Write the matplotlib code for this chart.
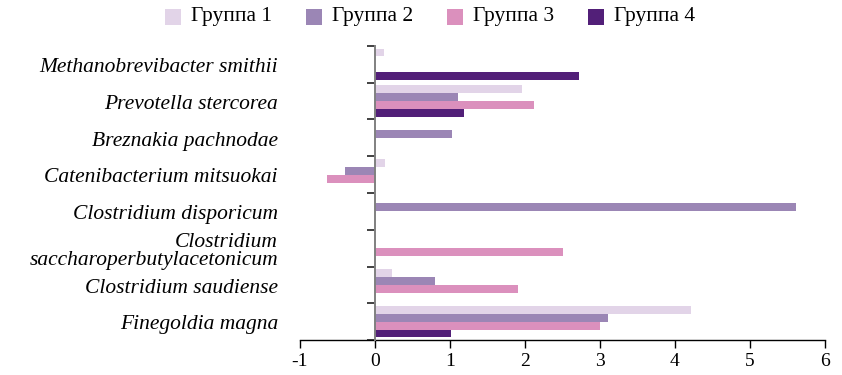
import matplotlib
matplotlib.use("Agg")
import matplotlib.pyplot as plt
import numpy as np
from matplotlib.patches import Rectangle

categories = [
    "Methanobrevibacter smithii",
    "Prevotella stercorea",
    "Breznakia pachnodae",
    "Catenibacterium mitsuokai",
    "Clostridium disporicum",
    "Clostridium\nsaccharoperbutylacetonicum",
    "Clostridium saudiense",
    "Finegoldia magna",
]
series_names = ["Группа 1", "Группа 2", "Группа 3", "Группа 4"]
group1 = [0.12, 1.96, 0, 0.13, 0, 0, 0.22, 4.21]
group2 = [0, 1.11, 1.03, -0.40, 5.61, 0, 0.80, 3.10]
group3 = [0, 2.12, 0, -0.64, 0, 2.51, 1.91, 3.00]
group4 = [2.72, 1.19, 0, 0, 0, 0, 0, 1.01]
x_ticks = [-1, 0, 1, 2, 3, 4, 5, 6]

colors = ["#e2d4e8", "#9b86b5", "#db90bd", "#521f78"]

plt.rcParams['font.family'] = ['Liberation Serif', 'DejaVu Serif']

W, H = 842, 375
fig = plt.figure(figsize=(W / 100, H / 100), dpi=100)
ax = fig.add_axes([300/W, 1-340/H, 525/W, 294/H])

n = len(categories)
ycent = np.arange(n)
bh = 0.215
series = [group1, group2, group3, group4]
for i, (vals, c) in enumerate(zip(series, colors)):
    offs = (i - 1.5) * bh
    ax.barh(ycent + offs, vals, height=bh, color=c, edgecolor='none', zorder=2)

ax.set_xlim(-1, 6)
ax.set_ylim(n - 0.5, -0.5)
ax.set_xticks(x_ticks)
ax.set_xticklabels([str(t) for t in x_ticks], fontsize=14)

ax.spines['top'].set_visible(False)
ax.spines['right'].set_visible(False)
ax.spines['left'].set_position(('data', 0))
ax.spines['left'].set_color('#808080')
ax.spines['left'].set_linewidth(1.4)
ax.spines['left'].set_zorder(3)
ax.spines['bottom'].set_linewidth(1.0)

ax.set_yticks(np.arange(n + 1) - 0.5)
ax.set_yticklabels([])
ax.tick_params(axis='y', which='major', length=6, width=1.3, color='#333333', direction='out')
ax.tick_params(axis='x', which='major', length=6, width=1.0, direction='out', pad=3)

# category labels at left
ytr = ax.get_yaxis_transform()
for yc, lab in zip(ycent, categories):
    ax.text(-0.042, yc + 0.09, lab, transform=ytr, ha='right', va='center',
            fontsize=15.5, style='italic', linespacing=0.9, clip_on=False)

# legend drawn in figure pixels
sq = 15.5
sq_x = [165, 306, 447, 588]
for x0, c, s in zip(sq_x, colors, series_names):
    fig.patches.append(Rectangle((x0 / W, 1 - 24.5 / H), sq / W, sq / H,
                                 transform=fig.transFigure, facecolor=c, edgecolor='none'))
    fig.text((x0 + 26) / W, 1 - 17 / H, s, ha='left', va='center', fontsize=15.5)

fig.savefig("out.png", dpi=100)
